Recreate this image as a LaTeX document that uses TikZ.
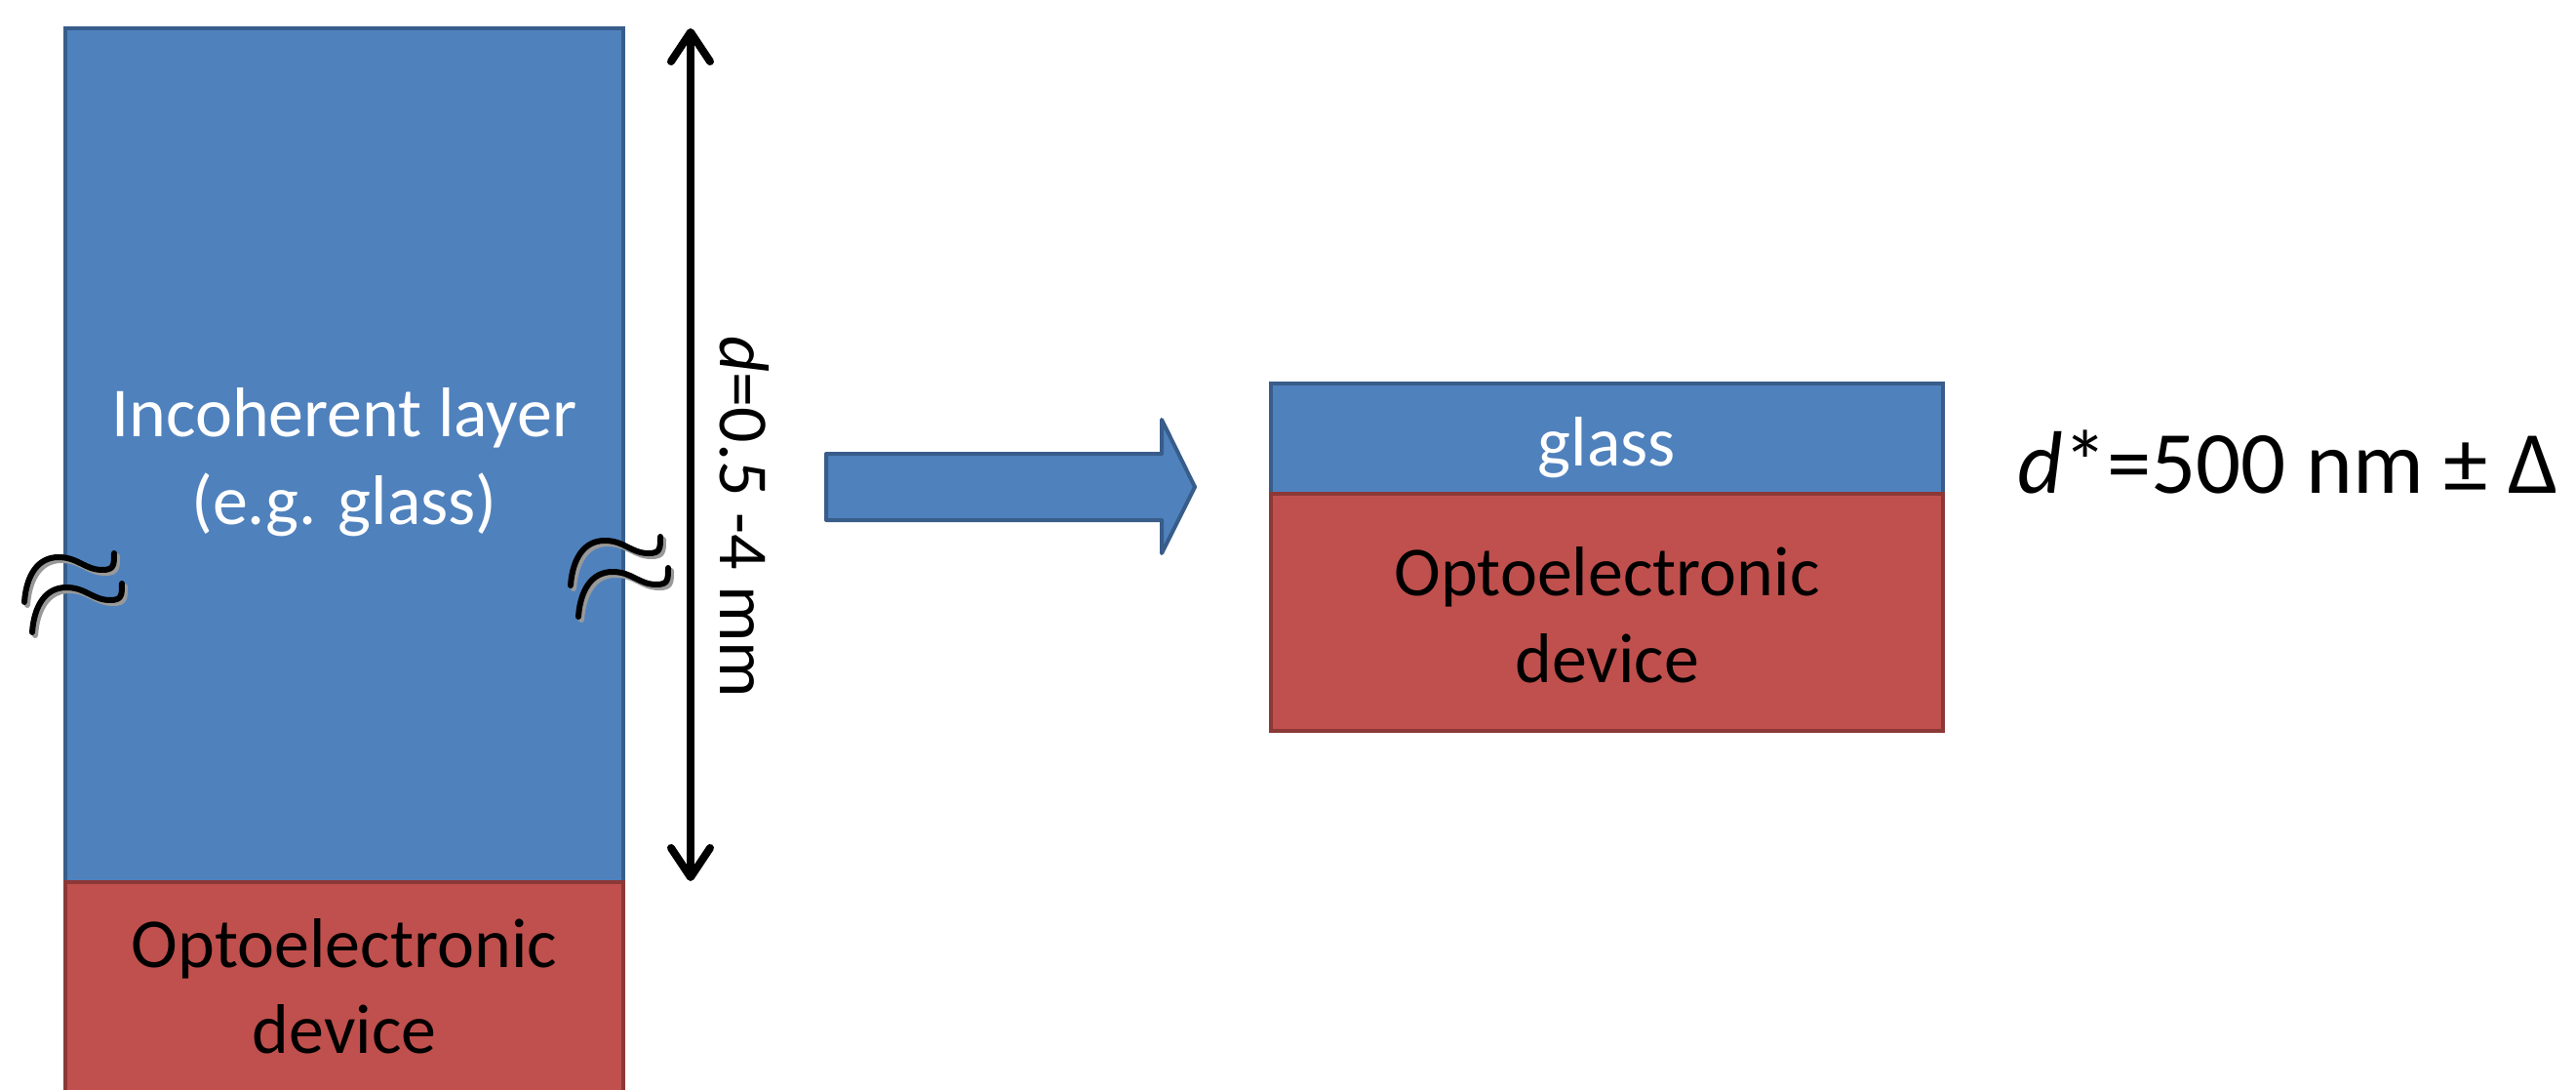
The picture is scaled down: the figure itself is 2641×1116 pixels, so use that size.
\documentclass[tikz,border=0pt]{standalone}
\usepackage{fontspec}
\setmainfont{Carlito}
\usetikzlibrary{arrows.meta}

\definecolor{layerblue}{HTML}{4F81BD}
\definecolor{layerblueline}{HTML}{385D8A}
\definecolor{devred}{HTML}{C0504D}
\definecolor{devredline}{HTML}{8C3836}

\tikzset{
  glassbox/.style={draw=layerblueline, fill=layerblue, line width=4pt, inner sep=0pt},
  devicebox/.style={draw=devredline, fill=devred, line width=4pt, inner sep=0pt},
  lbl/.style={font=\fontsize{72}{86}\selectfont, inner sep=0pt, anchor=base},
  bigarrow/.style={draw=layerblueline, fill=layerblue, line width=4pt, line join=round},
  dimline/.style={line width=8pt, {Straight Barb[length=30pt,width=40pt,line cap=round,line join=round]}-{Straight Barb[length=30pt,width=40pt,line cap=round,line join=round]}},
  breakmark/.pic={
    \draw[black!40, line width=6pt, line cap=round, shift={(3,3)}]
      (0,0) .. controls (2,-28) and (14,-46) .. (35,-46)
            .. controls (55,-46) and (62,-33) .. (80,-33)
            .. controls (92,-33) and (92,-38) .. (92,-50);
    \draw[black, line width=6pt, line cap=round]
      (0,0) .. controls (2,-28) and (14,-46) .. (35,-46)
            .. controls (55,-46) and (62,-33) .. (80,-33)
            .. controls (92,-33) and (92,-38) .. (92,-50);
  }
}

\begin{document}
\begin{tikzpicture}[x=1pt, y=-1pt]
  \path[use as bounding box] (0,0) rectangle (2641,1116);
  \clip (0,0) rectangle (2641,1116);

  % thick substrate on top of the device
  \node[glassbox, minimum width=572pt, minimum height=875pt] (thick) at (353,466.5) {};
  \node[devicebox, minimum width=572pt, minimum height=260pt] (devA) at (353,1034) {};
  \node[lbl, text=white] (incoh) at (353,447) {Incoherent layer};
  \node[lbl, text=white] (eg) at (353,537) {(e.g. glass)};
  \node[lbl] (devAa) at (353,991) {Optoelectronic};
  \node[lbl] (devAb) at (353,1079) {device};

  % break marks on both sides
  \pic at (25,617) {breakmark};
  \pic at (33,648) {breakmark};
  \pic at (585,600) {breakmark};
  \pic at (593,632) {breakmark};

  % thickness dimension
  \coordinate (dtop) at (708,29);
  \coordinate (dbot) at (708,903);
  \draw[dimline] (dtop) -- (dbot);
  \node[lbl, rotate=-90] (dlabel) at (738,530) {\textit{d}=0.5 -4 mm};

  % transition arrow
  \draw[bigarrow] (847,465) -- (1191,465) -- (1191,430) -- (1225,499)
                  -- (1191,567) -- (1191,533) -- (847,533) -- cycle;

  % thin glass on the device
  \node[glassbox, minimum width=689pt, minimum height=113pt] (thin) at (1647.5,449.5) {};
  \node[devicebox, minimum width=689pt, minimum height=243pt] (devB) at (1647.5,627.5) {};
  \node[lbl, text=white] (glass) at (1647.5,477) {glass};
  \node[lbl] (devBa) at (1647.5,610) {Optoelectronic};
  \node[lbl] (devBb) at (1647.5,699) {device};

  \node[font=\fontsize{91}{108}\selectfont, inner sep=0pt, anchor=base west] (dstar) at (2068,505)
    {\textit{d}*=500 nm ± Δ};
\end{tikzpicture}
\end{document}
